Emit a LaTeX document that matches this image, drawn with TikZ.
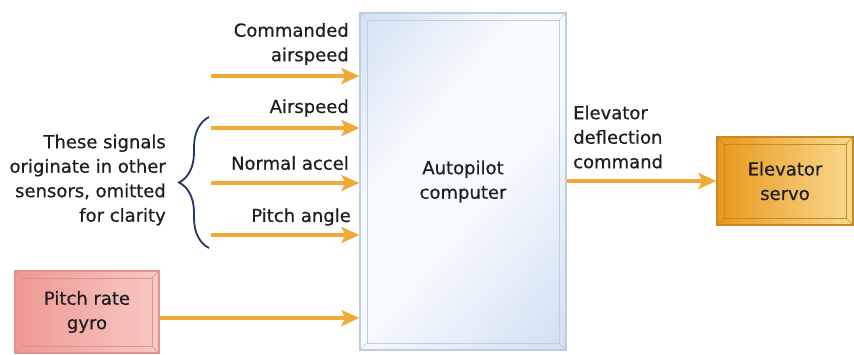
\documentclass[tikz,border=0pt]{standalone}
\usepackage{fontspec}
\setmainfont{DejaVu Sans}[FakeBold=0.6]
\newfontfamily\semib[FakeBold=0.6]{DejaVu Sans}
\usetikzlibrary{arrows.meta,decorations.pathreplacing,positioning}
\definecolor{sigc}{HTML}{F2AA36}
\definecolor{txt}{HTML}{1E1E1E}
\definecolor{apA}{HTML}{BDD3EE}
\definecolor{apB}{HTML}{F6F9FD}
\definecolor{apR}{HTML}{BFCDE0}
\definecolor{gyA}{HTML}{EE9893}
\definecolor{gyB}{HTML}{F8C9C5}
\definecolor{gyR}{HTML}{E4908B}
\definecolor{esA}{HTML}{E8981C}
\definecolor{esB}{HTML}{F9DA90}
\definecolor{esR}{HTML}{C8891E}
\definecolor{brc}{HTML}{26366A}
\pgfdeclarehorizontalshading{apsh}{100bp}{color(0bp)=(apA); color(38bp)=(apB);
    color(55bp)=(apB); color(100bp)=(apA)}
\tikzset{sig/.style = {draw=sigc, line width=3.5pt, -{Stealth[length=18pt, width=16pt, inset=4pt]}},
    bev/.style = {draw=#1, line width=1.2pt, align=center,
        path picture={\draw[#1, line width=0.8pt]
            ([shift={(7pt,-7pt)}]path picture bounding box.north west) rectangle
            ([shift={(-7pt,7pt)}]path picture bounding box.south east);
          \foreach \c/\d in {north west/{(7pt,-7pt)}, north east/{(-7pt,-7pt)},
                             south west/{(7pt,7pt)}, south east/{(-7pt,7pt)}}
            \draw[#1, line width=0.6pt] (path picture bounding box.\c) -- ++\d;}},
    lab/.style = {align=right, anchor=east, inner sep=0pt},
    d/.style = {}}

\begin{document}
\begin{tikzpicture}[x=1pt, y=-1pt, text=txt, font=\semib\fontsize{18}{24.5}\selectfont]
        \useasboundingbox (0,0) rectangle (854,354);

        % blocks
        \node[bev=apR, shading=apsh, shading angle=-40,
              minimum width=206pt, minimum height=337pt] (ap) at (463,181.5) {Autopilot\\computer};
        \node[bev=gyR, left color=gyA, right color=gyB,
              minimum width=144pt, minimum height=82pt] (gy) at (87,312) {Pitch rate\\gyro};
        \node[bev=esR, left color=esA, right color=esB,
              minimum width=136pt, minimum height=88pt] (es) at (785,181) {Elevator\\servo};

        % inputs
        \foreach \n/\y in {cas/76, as/128, na/183, pa/235} {
            \coordinate (\n) at (211,\y);
            \draw[sig] (\n) -- (ap.west |- \n);
        }
        \node[lab] (lcas) at (349,44) {Commanded\\airspeed};
        \node[lab] (las) at (349,108) {Airspeed};
        \node[lab] (lna) at (349,163) {Normal accel};
        \node[lab] (lpa) at (351,217) {Pitch angle};

        \coordinate (gyo) at ([yshift=-6pt]gy.east);
        \draw[sig] (gyo) -- (ap.west |- gyo);

        % output
        \draw[sig] (ap.east |- es.west) -- (es.west);
        \node[align=left, anchor=west, inner sep=0pt] (ldc) at (573,137)
            {Elevator\\deflection\\command};

        % brace
        \coordinate (br1) at (209,248);
        \coordinate (br2) at (209,117);
        \draw[brc, line width=1.8pt, decorate, decoration={brace, amplitude=30pt}] (br1) -- (br2);
        \node[lab] (note) at (166,180)
            {These signals\\originate in other\\sensors, omitted\\for clarity};
    \end{tikzpicture}
\end{document}
